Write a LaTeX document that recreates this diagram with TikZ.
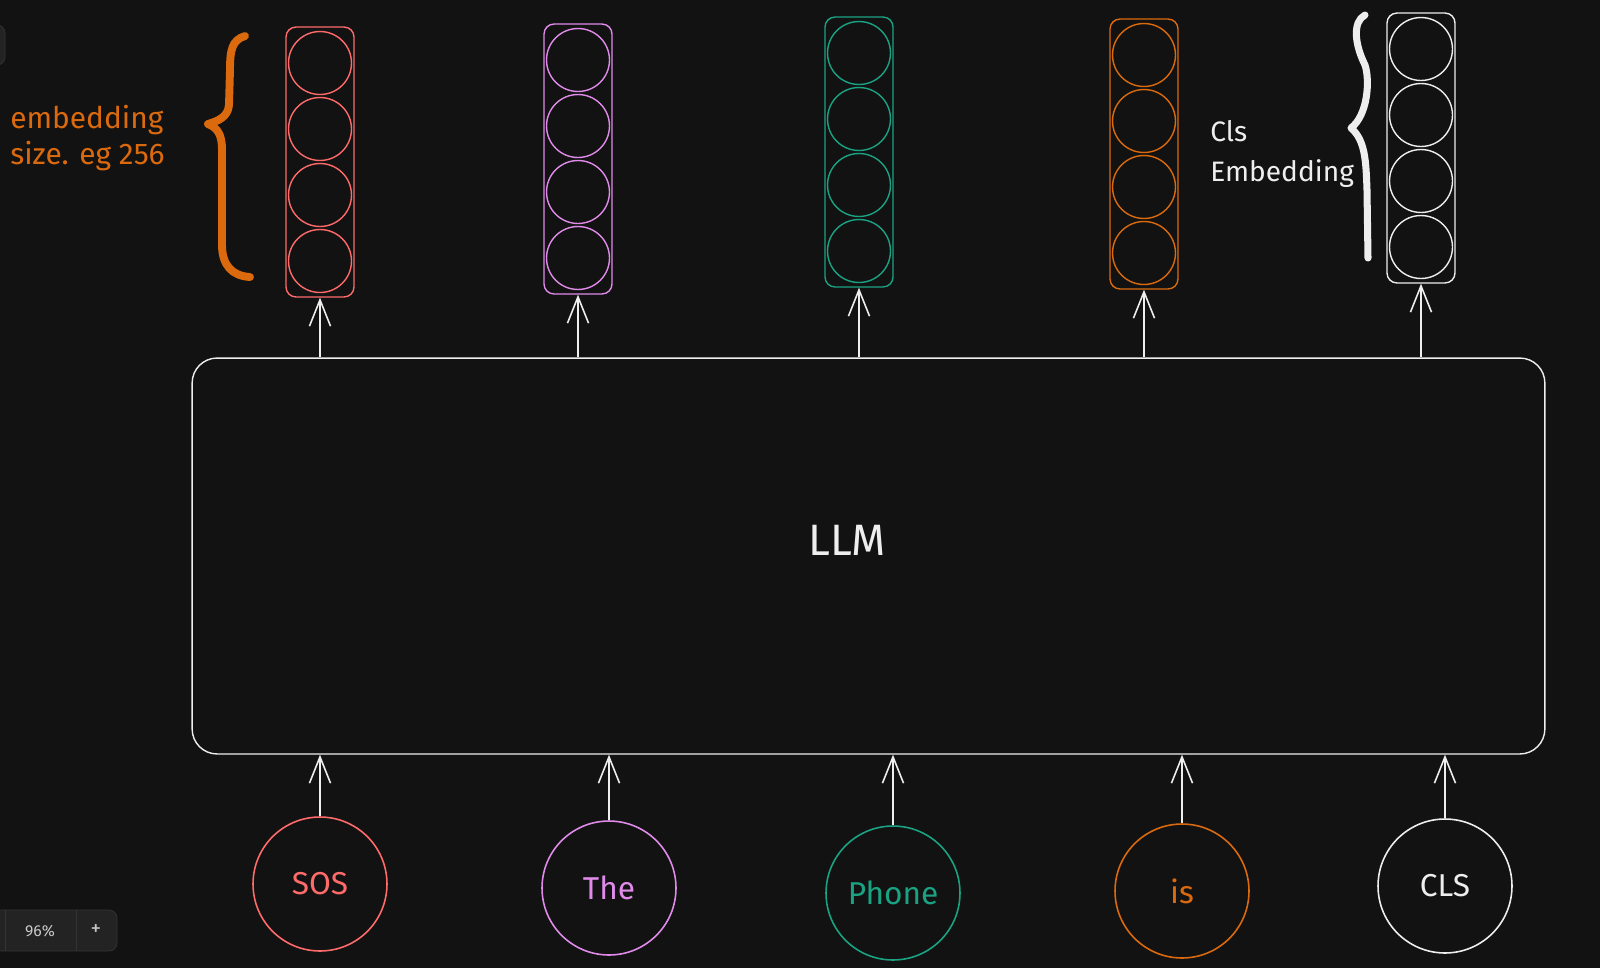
\documentclass[tikz,border=0pt]{standalone}
\usepackage{fontspec}
\setmainfont{Fira Sans}
\usetikzlibrary{%
  arrows.meta,%
  positioning%
}
\definecolor{bgdark}{HTML}{121212}
\definecolor{sosred}{HTML}{FF6B6B}
\definecolor{thepink}{HTML}{E08BEA}
\definecolor{phonegreen}{HTML}{1AA383}
\definecolor{isorange}{HTML}{DB6A0E}
\definecolor{chalk}{HTML}{EEEEEE}
\definecolor{panel}{HTML}{232323}
\definecolor{panelline}{HTML}{343434}
\definecolor{paneltext}{HTML}{C8C8C8}

\begin{document}
\begin{tikzpicture}[x=0.02cm,y=-0.02cm,
    token/.style={circle,draw,line width=0.9pt,minimum size=2.68cm,inner sep=0pt,
      font=\fontsize{18}{18}\selectfont},
    vecbox/.style={draw,rounded corners=0.2cm,line width=0.8pt,
      minimum width=1.36cm,minimum height=5.4cm,inner sep=0pt},
    cell/.style={circle,draw,line width=0.8pt,minimum size=1.26cm,inner sep=0pt},
    flow/.style={draw=chalk,line width=0.9pt,-{Straight Barb[length=15pt,width=12pt]}},
    brace/.style={line width=4.5pt,line cap=round,line join=round}]
      \fill [bgdark] (0,0) rectangle (1600,968);
      \useasboundingbox (0,0) rectangle (1600,968);
      % output vectors
      \foreach \name/\cx/\cy/\col in {vsos/320/162/sosred,vthe/578/159/thepink,
          vphone/859/152/phonegreen,vis/1144/154/isorange,vcls/1421/148/chalk}{
        \node [vecbox,draw=\col] (\name) at (\cx,\cy) {};
        \foreach \k/\dy in {1/-99,2/-33,3/33,4/99}
          \node [cell,draw=\col] (\name-\k) at ({\cx},{\cy+(\dy)}) {};
      }
      % model
      \node [draw=chalk,line width=0.8pt,rounded corners=0.5cm,
             minimum width=27.06cm,minimum height=7.92cm] (llm) at (868.5,556) {};
      \node [text=chalk,font=\fontsize{25}{25}\selectfont] (llmlabel) at (847,540) {LLM};
      % input tokens
      \node [token,draw=sosred,text=sosred] (sos) at (320,884) {SOS};
      \node [token,draw=thepink,text=thepink] (the) at (609,888) {The};
      \node [token,draw=phonegreen,text=phonegreen] (phone) at (893,893) {Phone};
      \node [token,draw=isorange,text=isorange] (is) at (1182,891) {is};
      \node [token,draw=chalk,text=chalk] (cls) at (1445,886) {CLS};
      \foreach \tok in {sos,the,phone,is,cls}
        \draw [flow] (\tok.north) -- (\tok.north |- llm.south);
      \foreach \v in {vsos,vthe,vphone,vis,vcls}
        \draw [flow] (\v.south |- llm.north) -- (\v.south);
      % braces and notes
      \draw [brace,isorange] (245,36) .. controls (232,40) and (230,50) .. (230,70)
        -- (229,105) .. controls (228,117) and (218,121) .. (208,124)
        .. controls (218,128) and (222,135) .. (222,150)
        -- (222,245) .. controls (222,265) and (232,276) .. (250,277);
      \node [text=isorange,align=left,anchor=north west,inner sep=0pt,
             font=\fontsize{17}{20.5}\selectfont] (embsize) at (10,105)
        {embedding\\size. eg 256};
      \draw [brace,chalk,line width=4pt] (1365,15) .. controls (1352,22) and (1355,45) .. (1365,65)
        .. controls (1370,80) and (1368,115) .. (1351,128)
        .. controls (1365,140) and (1366,160) .. (1367,190) -- (1368,258);
      \node [text=chalk,align=left,anchor=north west,inner sep=0pt,
             font=\fontsize{16}{22.7}\selectfont] (clsnote) at (1210,120)
        {Cls\\Embedding};
      % zoom widgets
      \draw [fill=panel,draw=panelline,rounded corners=0.16cm] (-20,910) rectangle (117,951);
      \draw [panelline] (5,910) -- (5,951);
      \draw [panelline] (76,910) -- (76,951);
      \node [text=paneltext,font=\fontsize{9}{9}\selectfont] (zoomlevel) at (40,931) {96\%};
      \node [text=paneltext,font=\fontsize{12}{12}\selectfont] (zoomin) at (96,930) {+};
      \draw [fill=panel,draw=panelline,rounded corners=0.16cm] (-20,25) rectangle (5,65);
    \end{tikzpicture}
\end{document}
